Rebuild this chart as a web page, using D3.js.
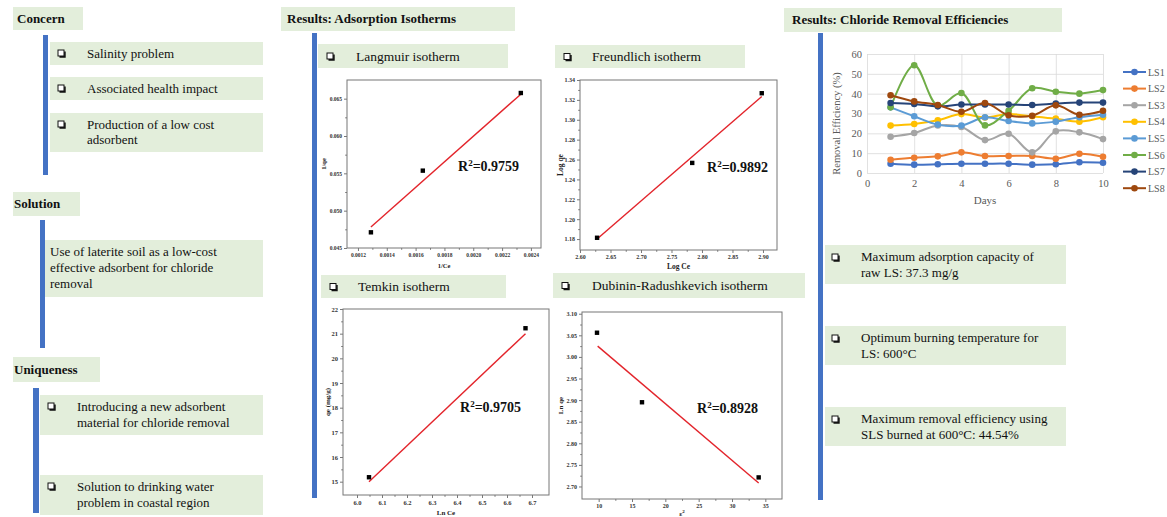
<!DOCTYPE html>
<html><head><meta charset="utf-8">
<script src="https://cdn.jsdelivr.net/npm/d3@7"></script>
<style>
body{margin:0;background:#fff}
svg{display:block}
text{font-family:"Liberation Serif","Times New Roman",serif}
</style>
</head><body>
<svg id="c" width="1167" height="517"></svg>
<script>
// ---------------- DATA ----------------
const concernItems = [["Salinity problem"], ["Associated health impact"], ["Production of a low cost", "adsorbent"]];
const solutionText = ["Use of laterite soil as a low-cost", "effective adsorbent for chloride", "removal"];
const uniquenessItems = [["Introducing a new adsorbent", "material for chloride removal"], ["Solution to drinking water", "problem in coastal region"]];
const resultItems = [["Maximum adsorption capacity of", "raw LS: 37.3 mg/g"], ["Optimum burning temperature for", "LS: 600°C"], ["Maximum removal efficiency using", "SLS burned at 600°C: 44.54%"]];

// Langmuir
const langmuirX = [0.00129, 0.00165, 0.00233];
const langmuirY = [0.0471, 0.05536, 0.06576];
const langmuirFitX = [0.00129, 0.00233];
const langmuirFitY = [0.0478, 0.0656];
const langmuirXTicks = [0.0012, 0.0014, 0.0016, 0.0018, 0.0020, 0.0022, 0.0024];
const langmuirYTicks = [0.045, 0.050, 0.055, 0.060, 0.065];
// Freundlich
const freundlichX = [2.628, 2.784, 2.898];
const freundlichY = [1.1813, 1.2566, 1.3267];
const freundlichFitX = [2.628, 2.898];
const freundlichFitY = [1.180, 1.3234];
const freundlichXTicks = [2.60, 2.65, 2.70, 2.75, 2.80, 2.85, 2.90];
const freundlichYTicks = [1.18, 1.20, 1.22, 1.24, 1.26, 1.28, 1.30, 1.32, 1.34];
// Temkin
const temkinX = [6.048, 6.674];
const temkinY = [15.18, 21.22];
const temkinFitX = [6.048, 6.674];
const temkinFitY = [15.0, 21.0];
const temkinXTicks = [6.0, 6.1, 6.2, 6.3, 6.4, 6.5, 6.6, 6.7];
const temkinYTicks = [15, 16, 17, 18, 19, 20, 21, 22];
// Dubinin-Radushkevich
const drX = [9.75, 16.5, 34.0];
const drY = [3.056, 2.895, 2.721];
const drFitX = [9.85, 34.0];
const drFitY = [3.025, 2.708];
const drXTicks = [10, 15, 20, 25, 30, 35];
const drYTicks = [2.70, 2.75, 2.80, 2.85, 2.90, 2.95, 3.00, 3.05, 3.10];

// Chloride removal efficiencies
const days = [1, 2, 3, 4, 5, 6, 7, 8, 9, 10];
const seriesNames = ["LS1", "LS2", "LS3", "LS4", "LS5", "LS6", "LS7", "LS8"];
const LS1 = [4.7, 4.2, 4.4, 4.7, 4.7, 4.7, 4.2, 4.4, 5.4, 5.2];
const LS2 = [6.7, 7.7, 8.4, 10.4, 8.6, 8.6, 8.6, 7.2, 9.7, 8.2];
const LS3 = [18.3, 20.2, 24.0, 23.2, 16.6, 19.8, 10.4, 21.0, 20.5, 17.1];
const LS4 = [23.9, 24.7, 26.6, 29.7, 28.0, 29.7, 28.6, 27.4, 25.9, 28.1];
const LS5 = [33.1, 28.6, 24.4, 23.9, 28.1, 26.2, 25.0, 25.9, 28.1, 29.4];
const LS6 = [33.1, 54.3, 34.0, 40.3, 24.0, 31.4, 42.7, 41.0, 40.0, 41.8];
const LS7 = [35.3, 34.8, 33.6, 34.5, 34.5, 34.5, 34.3, 35.0, 35.5, 35.5];
const LS8 = [39.2, 36.1, 34.3, 30.9, 35.3, 29.1, 28.9, 34.1, 29.4, 31.4];
const dayTicks = [0, 2, 4, 6, 8, 10];
const effTicks = [0, 10, 20, 30, 40, 50, 60];

// ---------------- STYLE ----------------
const BOX = "#e3eedb";
const BAR = "#4472c4";
const seriesColors = ["#4472c4", "#ed7d31", "#a5a5a5", "#ffc000", "#5b9bd5", "#70ad47", "#264478", "#9e480e"];

const svg = d3.select("#c");

function box(x, y, w, h) {
  svg.append("rect").attr("x", x).attr("y", y).attr("width", w).attr("height", h).attr("fill", BOX);
}
function bar(x, y1, y2, w) {
  svg.append("rect").attr("x", x).attr("y", y1).attr("width", w || 5).attr("height", y2 - y1).attr("fill", BAR);
}
function checkbox(x, yc) {
  const s = 6, y = yc - s / 2;
  svg.append("rect").attr("x", x).attr("y", y).attr("width", s).attr("height", s)
    .attr("fill", "#fff").attr("stroke", "#111").attr("stroke-width", 1);
  svg.append("path").attr("d", `M${x + 1.5},${y + s + 0.9}H${x + s + 0.9}V${y + 1.5}`)
    .attr("fill", "none").attr("stroke", "#111").attr("stroke-width", 1.6);
}
function lines(x, y, arr, size, lh, weight) {
  const t = svg.append("text").attr("x", x).attr("y", y).attr("font-size", size)
    .attr("font-weight", weight || "normal").attr("fill", "#111");
  arr.forEach((s, i) => t.append("tspan").attr("x", x).attr("dy", i ? lh : 0).text(s));
}
function header(x, y, w, h, label, tx, size) {
  box(x, y, w, h);
  svg.append("text").attr("x", tx).attr("y", y + h / 2 + size * 0.33).attr("font-size", size)
    .attr("font-weight", "bold").attr("fill", "#111").text(label);
}

// ---------------- LEFT COLUMN ----------------
header(13, 7, 70, 23, "Concern", 17, 13);
bar(43, 35, 175, 5);
const concernBoxes = [[42, 23], [77, 23], [113, 39]];
concernItems.forEach((item, i) => {
  const [by, bh] = concernBoxes[i];
  box(50, by, 213, bh);
  checkbox(58, by + 11);
  lines(87, by + 16, item, 13, 15);
});

header(13, 192, 67, 24, "Solution", 14, 13);
bar(40, 220, 348, 5);
box(45, 240, 218, 57);
lines(50, 256, solutionText, 13, 16);

header(13, 357, 87, 25, "Uniqueness", 14, 13);
bar(33, 388, 513, 6);
const uniqBoxes = [395, 475];
uniquenessItems.forEach((item, i) => {
  const by = uniqBoxes[i];
  box(40, by, 223, 40);
  checkbox(48, by + 11);
  lines(77, by + 16, item, 13, 16);
});

// ---------------- MIDDLE COLUMN ----------------
header(281, 7, 234, 24, "Results: Adsorption Isotherms", 287, 13);
bar(312, 33, 498, 5);

function scatter(cfg) {
  header(cfg.hx, cfg.hy, cfg.hw, cfg.hh, "", 0, 1);
  checkbox(cfg.hx + 9, cfg.hy + cfg.hh / 2);
  svg.append("text").attr("x", cfg.tx).attr("y", cfg.hy + cfg.hh / 2 + 4.6).attr("font-size", 13.5)
    .attr("fill", "#111").text(cfg.title);

  const g = svg.append("g");
  const x = d3.scaleLinear().domain(cfg.xd).range([cfg.x0, cfg.x1]);
  const y = d3.scaleLinear().domain(cfg.yd).range([cfg.y1, cfg.y0]);
  const mid = t => d3.pairs(t).map(([a, b]) => (a + b) / 2);

  const style = sel => {
    sel.select(".domain").remove();
    sel.selectAll("line").attr("stroke", "#555").attr("stroke-width", 0.8);
    sel.selectAll("text").attr("font-size", cfg.fs || 6).attr("font-weight", "bold").attr("fill", "#333")
      .attr("font-family", "Liberation Serif, serif");
  };
  g.append("g").attr("transform", `translate(0,${cfg.y1})`)
    .call(d3.axisBottom(x).tickValues(cfg.xt).tickFormat(d3.format(cfg.xf)).tickSize(3).tickPadding(2)).call(style);
  g.append("g").attr("transform", `translate(0,${cfg.y1})`)
    .call(d3.axisBottom(x).tickValues(mid(cfg.xt)).tickFormat("").tickSize(1.8)).call(style);
  g.append("g").attr("transform", `translate(${cfg.x0},0)`)
    .call(d3.axisLeft(y).tickValues(cfg.yt).tickFormat(d3.format(cfg.yf)).tickSize(3).tickPadding(2)).call(style);
  g.append("g").attr("transform", `translate(${cfg.x0},0)`)
    .call(d3.axisLeft(y).tickValues(mid(cfg.yt)).tickFormat("").tickSize(1.8)).call(style);

  g.append("rect").attr("x", cfg.x0).attr("y", cfg.y0).attr("width", cfg.x1 - cfg.x0).attr("height", cfg.y1 - cfg.y0)
    .attr("fill", "none").attr("stroke", "#777").attr("stroke-width", 1);

  g.append("path").datum(d3.zip(cfg.fx, cfg.fy))
    .attr("d", d3.line().x(d => x(d[0])).y(d => y(d[1])))
    .attr("stroke", "#e3242b").attr("stroke-width", 1.4).attr("fill", "none");

  g.selectAll(null).data(d3.zip(cfg.px, cfg.py)).enter().append("rect")
    .attr("x", d => x(d[0]) - 2.2).attr("y", d => y(d[1]) - 2.2).attr("width", 4.4).attr("height", 4.4).attr("fill", "#000");

  const r = g.append("text").attr("x", cfg.rx).attr("y", cfg.ry).attr("font-size", 14).attr("font-weight", "bold").attr("fill", "#111");
  r.append("tspan").text("R");
  r.append("tspan").attr("font-size", 9).attr("dy", -5).text("2");
  r.append("tspan").attr("dy", 5).text(cfg.r2);

  g.append("text").attr("transform", `translate(${cfg.ylx},${(cfg.y0 + cfg.y1) / 2}) rotate(-90)`)
    .attr("text-anchor", "middle").attr("font-size", cfg.lfs || 7.5).attr("font-weight", "bold").attr("fill", "#222")
    .text(cfg.yl);
  const xl = g.append("text").attr("x", (cfg.x0 + cfg.x1) / 2).attr("y", cfg.xly)
    .attr("text-anchor", "middle").attr("font-size", cfg.lfs || 7.5).attr("font-weight", "bold").attr("fill", "#222");
  xl.append("tspan").text(cfg.xl);
  if (cfg.xlSup) xl.append("tspan").attr("font-size", 5).attr("dy", -3).text(cfg.xlSup);
}

scatter({
  hx: 318, hy: 44, hw: 190, hh: 24, tx: 356, title: "Langmuir isotherm",
  x0: 347, x1: 541, y0: 80, y1: 248,
  xd: [0.001124, 0.00247], yd: [0.045, 0.0675],
  xt: langmuirXTicks, yt: langmuirYTicks, xf: ".4f", yf: ".3f", fs: 5.5,
  px: langmuirX, py: langmuirY, fx: langmuirFitX, fy: langmuirFitY,
  rx: 458, ry: 171, r2: "=0.9759",
  yl: "1/qe", ylx: 326, xl: "1/Ce", xly: 268, lfs: 6.5
});
scatter({
  hx: 555, hy: 45, hw: 190, hh: 23, tx: 592, title: "Freundlich isotherm",
  x0: 580, x1: 777, y0: 80, y1: 250,
  xd: [2.60, 2.923], yd: [1.169, 1.34],
  xt: freundlichXTicks, yt: freundlichYTicks, xf: ".2f", yf: ".2f", fs: 6,
  px: freundlichX, py: freundlichY, fx: freundlichFitX, fy: freundlichFitY,
  rx: 707, ry: 172, r2: "=0.9892",
  yl: "Log qe", ylx: 563, xl: "Log Ce", xly: 269
});
scatter({
  hx: 321, hy: 275, hw: 185, hh: 23, tx: 358, title: "Temkin isotherm",
  x0: 343, x1: 549, y0: 309, y1: 495,
  xd: [5.944, 6.768], yd: [14.46, 22],
  xt: temkinXTicks, yt: temkinYTicks, xf: ".1f", yf: "d", fs: 6.5,
  px: temkinX, py: temkinY, fx: temkinFitX, fy: temkinFitY,
  rx: 460, ry: 412, r2: "=0.9705",
  yl: "qe (mg/g)", ylx: 330, xl: "Ln Ce", xly: 514.5, lfs: 7
});
scatter({
  hx: 553, hy: 273, hw: 252, hh: 25, tx: 592, title: "Dubinin-Radushkevich isotherm",
  x0: 582, x1: 782, y0: 312, y1: 499,
  xd: [7.5, 37.5], yd: [2.671, 3.104],
  xt: drXTicks, yt: drYTicks, xf: "d", yf: ".2f", fs: 6,
  px: drX, py: drY, fx: drFitX, fy: drFitY,
  rx: 697, ry: 413, r2: "=0.8928",
  yl: "Ln qe", ylx: 563, xl: "ε", xlSup: "2", xly: 515.5, lfs: 7
});

// ---------------- RIGHT COLUMN ----------------
header(784, 8, 278, 24, "Results: Chloride Removal Efficiencies", 792, 13);
bar(818, 33, 500, 5);

const lx0 = 867, lx1 = 1103, ly0 = 54, ly1 = 173;
const xs = d3.scaleLinear().domain([0, 10]).range([lx0, lx1]);
const ys = d3.scaleLinear().domain([0, 60]).range([ly1, ly0]);
const lc = svg.append("g");
const gstyle = sel => {
  sel.select(".domain").remove();
  sel.selectAll("line").attr("stroke", "#d9d9d9").attr("stroke-width", 0.8);
  sel.selectAll("text").attr("font-size", 10.5).attr("fill", "#595959").attr("font-family", "Liberation Serif, serif");
};
lc.append("g").attr("transform", `translate(${lx0},0)`)
  .call(d3.axisLeft(ys).tickValues(effTicks).tickSize(-(lx1 - lx0)).tickPadding(5)).call(gstyle);
lc.append("g").attr("transform", `translate(0,${ly1})`)
  .call(d3.axisBottom(xs).tickValues(dayTicks).tickSize(-(ly1 - ly0)).tickPadding(7)).call(gstyle);

const allSeries = [LS1, LS2, LS3, LS4, LS5, LS6, LS7, LS8];
const line = d3.line().x((d, i) => xs(days[i])).y(d => ys(d)).curve(d3.curveCatmullRom.alpha(0.5));
allSeries.forEach((s, k) => {
  lc.append("path").datum(s).attr("d", line).attr("fill", "none")
    .attr("stroke", seriesColors[k]).attr("stroke-width", 2);
  lc.selectAll(null).data(s).enter().append("circle")
    .attr("cx", (d, i) => xs(days[i])).attr("cy", d => ys(d)).attr("r", 3.3)
    .attr("fill", seriesColors[k]);
});
lc.append("text").attr("transform", `translate(840,${(ly0 + ly1) / 2 + 10}) rotate(-90)`)
  .attr("text-anchor", "middle").attr("font-size", 10.5).attr("fill", "#595959").text("Removal Efficiency (%)");
lc.append("text").attr("x", (lx0 + lx1) / 2).attr("y", 204).attr("text-anchor", "middle")
  .attr("font-size", 11).attr("fill", "#595959").text("Days");

seriesNames.forEach((n, k) => {
  const yy = 72 + k * 16.6;
  lc.append("line").attr("x1", 1123).attr("x2", 1146).attr("y1", yy).attr("y2", yy)
    .attr("stroke", seriesColors[k]).attr("stroke-width", 2);
  lc.append("circle").attr("cx", 1134.5).attr("cy", yy).attr("r", 3.3).attr("fill", seriesColors[k]);
  lc.append("text").attr("x", 1148).attr("y", yy + 3.5).attr("font-size", 10).attr("fill", "#595959").text(n);
});

const resBoxes = [245, 326, 407];
resultItems.forEach((item, i) => {
  const by = resBoxes[i];
  box(825, by, 241, 39);
  checkbox(832, by + 12);
  lines(861, by + 16, item, 13, 16);
});
</script>
</body></html>
